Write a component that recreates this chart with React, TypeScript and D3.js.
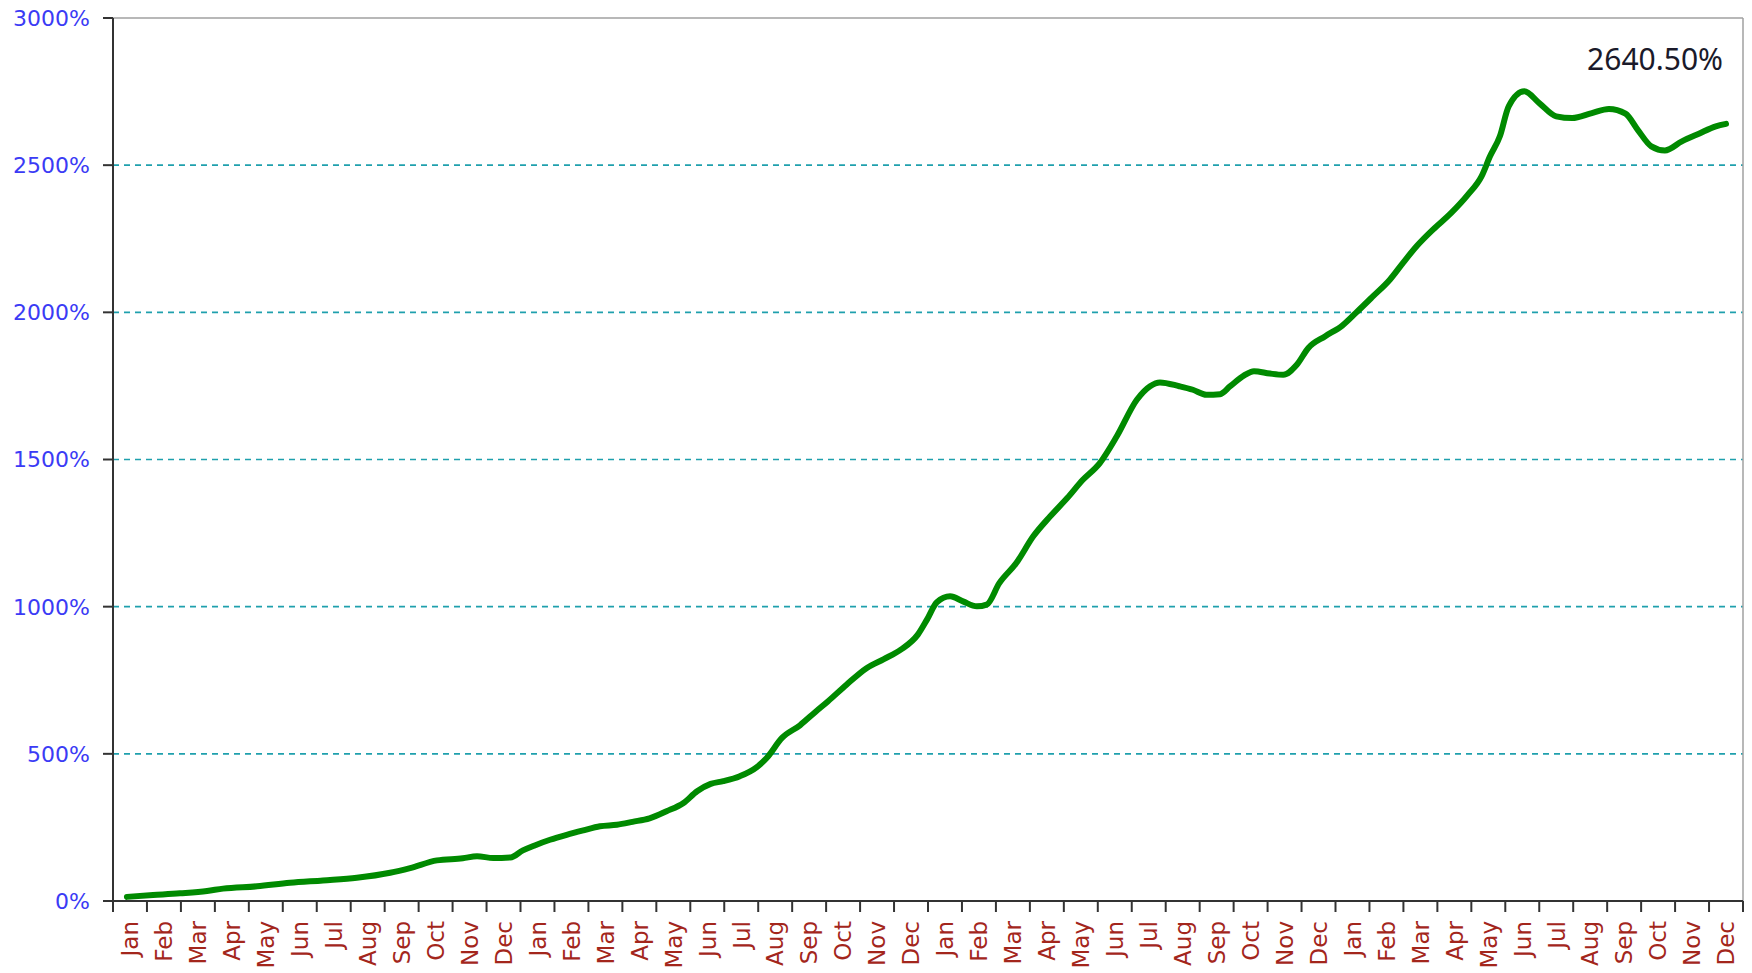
import * as d3 from "d3";

// month abbreviations, repeated for each year on the axis
const monthNames = ["Jan", "Feb", "Mar", "Apr", "May", "Jun", "Jul", "Aug", "Sep", "Oct", "Nov", "Dec"];
const yearCount = 4;

// y axis ticks (%)
const yTicks = [0, 500, 1000, 1500, 2000, 2500, 3000];

// cumulative return; position in months from the first Jan
const monthPos = [
  0.41, 1.18, 1.97, 2.77, 3.24, 4.24, 5.21, 6.18, 7.18, 8.16, 8.75, 9.54, 10.3, 10.72, 11.2, 11.7,
  12.07, 12.4, 12.87, 13.36, 13.85, 14.34, 14.84, 15.3, 15.8, 16.3, 16.8, 17.2, 17.6, 17.97, 18.46,
  18.96, 19.25, 19.7, 20.23, 20.7, 21.05, 21.6, 22.2, 22.7, 23.2, 23.7, 23.97, 24.26, 24.65, 25.03,
  25.44, 25.73, 26.1, 26.6, 27.1, 27.6, 28.1, 28.56, 29.06, 29.56, 30.15, 30.54, 30.83, 31.4, 31.8,
  32.2, 32.6, 32.9, 33.3, 33.6, 34.07, 34.46, 34.86, 35.2, 35.7, 36.2, 36.6, 37.1, 37.6, 38.0, 38.4,
  38.87, 39.4, 39.9, 40.3, 40.55, 40.84, 41.1, 41.56, 42.0, 42.5, 42.97, 43.55, 44.05, 44.54, 44.9,
  45.3, 45.7, 46.2, 46.7, 47.2, 47.5,
];
const returnPct = [
  14, 20, 26, 34, 42, 50, 62, 70, 79, 96, 112, 138, 145, 152, 146, 148,
  172, 188, 208, 225, 240, 254, 259, 269, 281, 305, 333, 373, 398, 407, 424,
  455, 486, 554, 597, 644, 678, 735, 792, 822, 854, 905, 956, 1015, 1035, 1018,
  1001, 1007, 1080, 1148, 1239, 1307, 1369, 1431, 1488, 1579, 1703, 1749, 1762, 1749, 1737,
  1720, 1722, 1749, 1785, 1800, 1792, 1788, 1822, 1879, 1919, 1955, 1998, 2054, 2111, 2170, 2226,
  2281, 2337, 2400, 2462, 2530, 2598, 2700, 2751, 2711, 2666, 2660, 2677, 2691, 2675, 2620,
  2564, 2550, 2581, 2607, 2632, 2640.5,
];
const finalLabel = "2640.50%";

const W = 1752;
const H = 973;
const left = 113, right = 1743, top = 18, bottom = 901;

export default function App() {
  const totalMonths = monthNames.length * yearCount;
  const x = d3.scaleLinear().domain([0, totalMonths]).range([left, right]);
  const y = d3.scaleLinear().domain([0, 3000]).range([bottom, top]);

  const points = monthPos.map((m, i) => [m, returnPct[i]] as [number, number]);
  const line = d3
    .line<[number, number]>()
    .x((d) => x(d[0]))
    .y((d) => y(d[1]))
    .curve(d3.curveMonotoneX);

  const labels = d3.range(totalMonths).map((i) => monthNames[i % 12]);

  return (
    <svg width={W} height={H} style={{ position: "absolute", left: 0, top: 0 }}>
      <rect width={W} height={H} fill="#fff" />
      {/* grid */}
      {yTicks.slice(1, -1).map((t) => (
        <line key={"g" + t} x1={left} x2={right} y1={y(t)} y2={y(t)}
          stroke="#1fa0ad" strokeWidth={1.6} strokeDasharray="6,5" />
      ))}
      {/* frame: light top/right, dark axes */}
      <line x1={left} x2={right} y1={top} y2={top} stroke="#a0a0a0" strokeWidth={1.5} />
      <line x1={right} x2={right} y1={top} y2={bottom} stroke="#a0a0a0" strokeWidth={1.5} />
      {/* y ticks and labels */}
      {yTicks.map((t) => (
        <g key={"y" + t}>
          <line x1={left - 10} x2={left} y1={y(t)} y2={y(t)} stroke="#333" strokeWidth={2} />
          <text x={90} y={y(t)} dy="0.36em" textAnchor="end" fill="#3b3bf5"
            fontFamily="DejaVu Sans" fontSize={22}>{t}%</text>
        </g>
      ))}
      {/* x ticks and labels */}
      {d3.range(totalMonths + 1).map((i) => (
        <line key={"t" + i} x1={x(i)} x2={x(i)} y1={bottom} y2={bottom + 11} stroke="#333" strokeWidth={2} />
      ))}
      {labels.map((lab, i) => {
        const cx = x(i + 0.5);
        return (
          <text key={"m" + i} transform={`translate(${cx},921) rotate(-90)`} dy="0.36em"
            textAnchor="end" fill="#a3261c" fontFamily="DejaVu Sans" fontSize={23}>{lab}</text>
        );
      })}
      <line x1={left} x2={left} y1={top} y2={bottom} stroke="#333" strokeWidth={2} />
      <line x1={left - 10} x2={right} y1={bottom} y2={bottom} stroke="#333" strokeWidth={2} />
      {/* series */}
      <path d={line(points) ?? ""} fill="none" stroke="#008a00" strokeWidth={6}
        strokeLinejoin="round" strokeLinecap="round" />
      <text x={1723} y={70} textAnchor="end" fill="#1a1a2a" fontFamily="Noto Sans" fontSize={30}>
        {finalLabel}
      </text>
    </svg>
  );
}
